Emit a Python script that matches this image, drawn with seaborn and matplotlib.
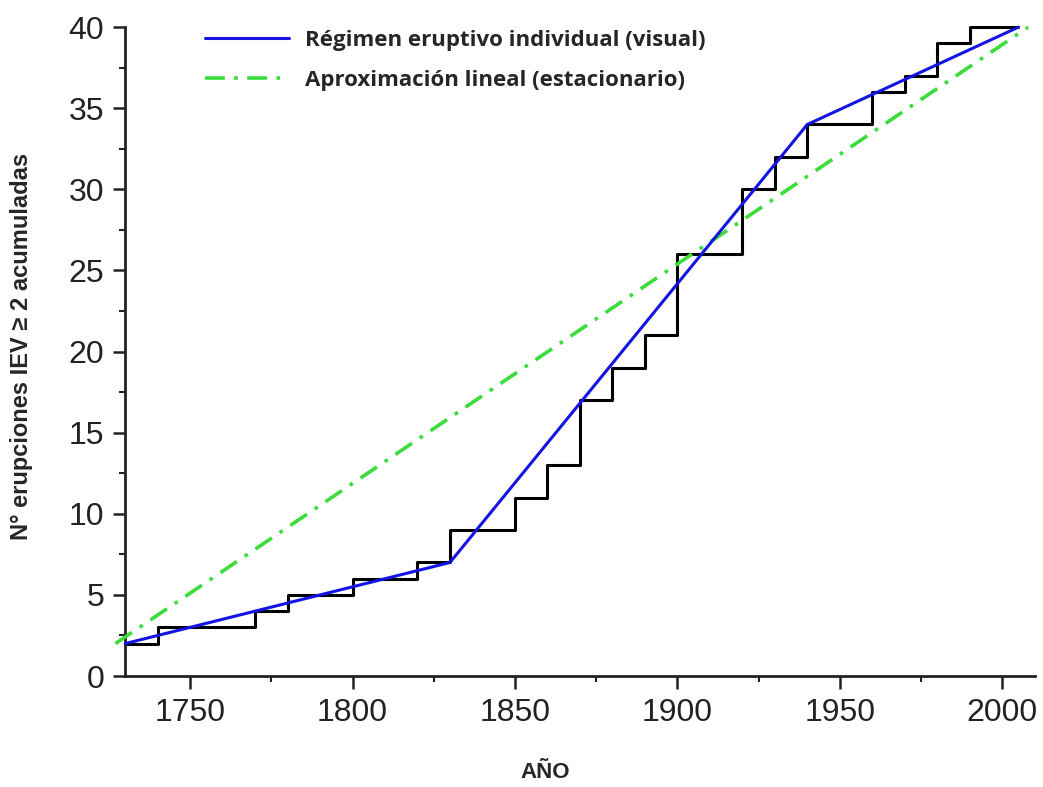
import matplotlib
matplotlib.use("Agg")
import matplotlib.pyplot as plt
from matplotlib.ticker import MultipleLocator
import seaborn as sns
import pandas as pd

# Cumulative count of VEI >= 2 eruptions (step series)
step_years = [1730, 1740, 1770, 1780, 1800, 1820, 1830, 1850, 1860, 1870,
              1880, 1890, 1900, 1920, 1930, 1940, 1960, 1970, 1980, 1990, 2005]
step_counts = [2, 3, 4, 5, 6, 7, 9, 11, 13, 17,
               19, 21, 26, 30, 32, 34, 36, 37, 39, 40, 40]

# Piecewise eruptive regime (visual fit)
regime_years = [1730, 1830, 1940, 2005]
regime_counts = [2, 7, 34, 40]

# Stationary linear approximation
linear_years = [1727, 2008]
linear_counts = [2, 40]

x_ticks = [1750, 1800, 1850, 1900, 1950, 2000]
y_ticks = [0, 5, 10, 15, 20, 25, 30, 35, 40]

legend_regime = "Régimen eruptivo individual (visual)"
legend_linear = "Aproximación lineal (estacionario)"
x_title = "AÑO"
y_title = "N° erupciones IEV ≥ 2 acumuladas"

sns.set_theme(style="ticks")
plt.rcParams["font.family"] = ["Liberation Sans", "DejaVu Sans"]

fig = plt.figure(figsize=(10.43, 7.87), dpi=100)
ax = fig.add_axes([0.12, 0.141, 0.872, 0.8245])

steps = pd.DataFrame({"year": step_years, "count": step_counts})
regime = pd.DataFrame({"year": regime_years, "count": regime_counts})
linear = pd.DataFrame({"year": linear_years, "count": linear_counts})

sns.lineplot(data=steps, x="year", y="count", ax=ax, color="black",
             linewidth=2.2, drawstyle="steps-post", estimator=None, zorder=2,
             clip_on=False)
sns.lineplot(data=linear, x="year", y="count", ax=ax, color="#3cdc3c",
             linewidth=2.6, linestyle=(0, (5.5, 2.6, 1.0, 2.6)), estimator=None,
             label=legend_linear, zorder=3, clip_on=False)
sns.lineplot(data=regime, x="year", y="count", ax=ax, color="#1414e0",
             linewidth=2.2, estimator=None, label=legend_regime, zorder=4,
             clip_on=False)

ax.set_xlim(1730, 2010)
ax.set_ylim(0, 40)
ax.set_xticks(x_ticks)
ax.set_yticks(y_ticks)
ax.xaxis.set_minor_locator(MultipleLocator(25))
ax.yaxis.set_minor_locator(MultipleLocator(2.5))

for side in ("top", "right"):
    ax.spines[side].set_visible(False)
for side in ("left", "bottom"):
    ax.spines[side].set_linewidth(2.0)
    ax.spines[side].set_color("#222222")

ax.tick_params(axis="both", which="major", length=9, width=1.8,
               labelsize=23, colors="#222222")
ax.tick_params(axis="both", which="minor", length=4.5, width=1.5,
               colors="#222222")
ax.tick_params(axis="x", which="major", pad=7)
ax.tick_params(axis="y", which="major", pad=6)

ax.set_xlabel(x_title, fontsize=16, fontweight="bold",
              family=["Liberation Sans Narrow", "Liberation Sans", "DejaVu Sans"])
ax.xaxis.set_label_coords(0.4615, -0.133)
ax.set_ylabel(y_title, fontsize=17, fontweight="bold",
              family=["Liberation Sans Narrow", "Liberation Sans", "DejaVu Sans"])
ax.yaxis.set_label_coords(-0.101, 0.5076)

handles, labels = ax.get_legend_handles_labels()
ax.get_legend().remove()
order = [labels.index(legend_regime), labels.index(legend_linear)]
fig.legend([handles[i] for i in order], [labels[i] for i in order],
           loc="upper left", bbox_to_anchor=(0.1966, 0.962), frameon=False,
           borderpad=0, borderaxespad=0,
           handlelength=3.8, handletextpad=0.68, labelspacing=0.87,
           prop={"family": "Open Sans", "weight": "bold", "size": 16})

fig.savefig("out.png", dpi=100, facecolor="white")
